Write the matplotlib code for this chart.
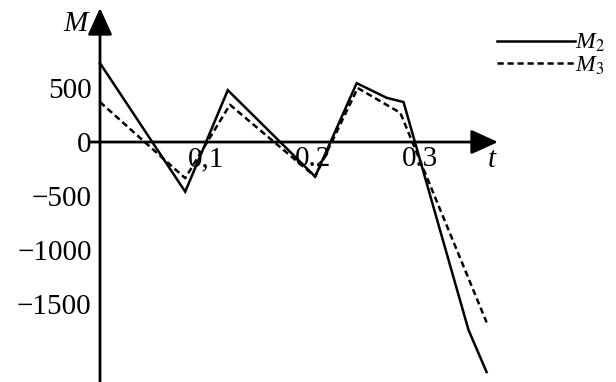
import numpy as np
import matplotlib
matplotlib.use('Agg')
import matplotlib.pyplot as plt
from matplotlib.lines import Line2D

# data
t_m2 = [0, 0.080, 0.120, 0.202, 0.241, 0.269, 0.285, 0.346, 0.363]
m2 = [730, -460, 480, -320, 545, 410, 370, -1740, -2130]

t_m3 = [0, 0.080, 0.122, 0.202, 0.242, 0.282, 0.363]
m3 = [370, -335, 345, -320, 500, 270, -1670]

y_ticks = [500, 0, -500, -1000, -1500]
y_labels = ['500', '0', '\u2212500', '\u22121000', '\u22121500']
x_ticks = [0.1, 0.2, 0.3]
x_labels = ['0,1', '0.2', '0.3']

plt.rcParams['font.family'] = ['Liberation Serif', 'DejaVu Serif']
plt.rcParams['mathtext.fontset'] = 'stix'

fig = plt.figure(figsize=(6.16, 3.82), dpi=100)
ax = fig.add_axes([0, 0, 1, 1])
ax.set_xlim(-0.0939, 0.4845)
ax.set_ylim(-2222, 1315)

ax.plot(t_m2, m2, color='black', lw=1.8, solid_joinstyle='miter')
ax.plot(t_m3, m3, color='black', lw=1.8, dashes=(2.5, 1.5))

# axes drawn as arrows through the origin
for s in ax.spines.values():
    s.set_visible(False)
ax.spines['left'].set_position(('data', 0))
ax.spines['bottom'].set_position(('data', 0))
arrow = dict(arrowstyle='-|>,head_length=0.55,head_width=0.25', lw=2.0,
             color='black', mutation_scale=30, shrinkA=0, shrinkB=0)
ax.annotate('', xy=(0.3737, 0), xytext=(-0.0094, 0), arrowprops=arrow)
ax.annotate('', xy=(0, 1241), xytext=(0, -2222), arrowprops=arrow)

ax.set_yticks(y_ticks)
ax.set_yticklabels(y_labels)
ax.set_xticks(x_ticks)
ax.set_xticklabels(x_labels)
ax.tick_params(axis='both', length=0, labelsize=21)
ax.tick_params(axis='y', pad=6)
ax.tick_params(axis='x', pad=3)

ax.text(-0.0113, 1093, 'M', fontsize=21, style='italic', ha='right', va='center')
ax.text(0.368, -167, 't', fontsize=21, style='italic', ha='center', va='center')

handles = [Line2D([], [], color='black', lw=1.8),
           Line2D([], [], color='black', lw=1.8, dashes=(2.5, 1.5))]
ax.legend(handles, ['M$_2$', 'M$_3$'], loc='upper left',
          bbox_to_anchor=(497 / 616, 1 - 32 / 382), bbox_transform=fig.transFigure,
          frameon=False, handlelength=3.3, handletextpad=0.0, labelspacing=0.0,
          borderpad=0, borderaxespad=0,
          prop={'family': 'Liberation Serif', 'style': 'italic', 'size': 17})

fig.savefig('out.png', dpi=100, facecolor='white')
